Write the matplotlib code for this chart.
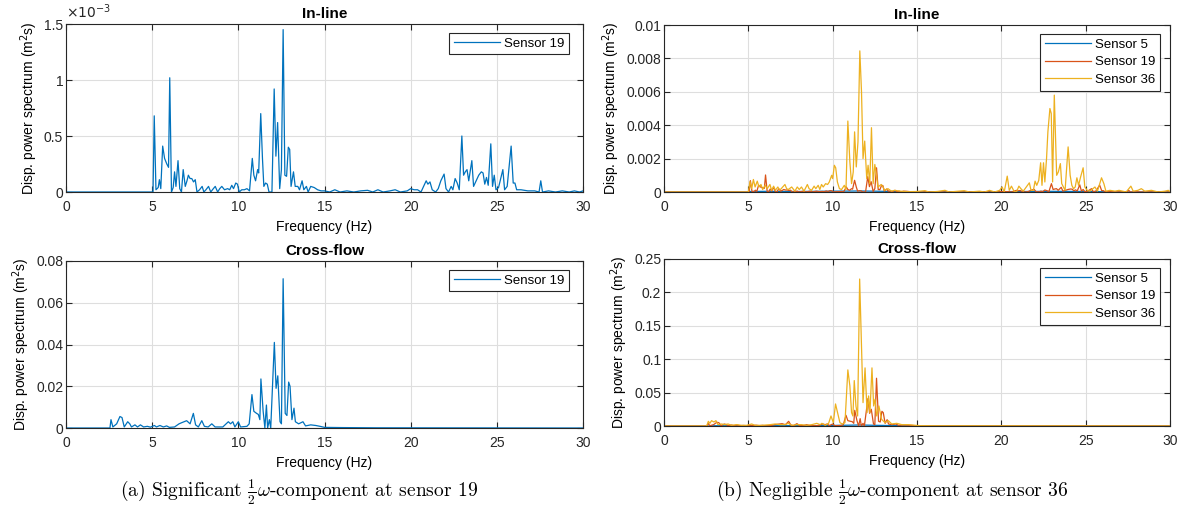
import numpy as np
import matplotlib
matplotlib.use("Agg")
import matplotlib.pyplot as plt
from matplotlib.ticker import FuncFormatter

plt.rcParams['font.family'] = ['Liberation Sans', 'DejaVu Sans']

# colours (MATLAB defaults)
C_BLUE = '#0072BD'
C_ORANGE = '#D95319'
C_YELLOW = '#EDB120'

# ---- data: (frequency Hz, value) ----
# in-line, units of 1e-3 m^2 s
inline_s19 = [
    (0, 0), (5.05, 0), (5.12, 0.68), (5.22, 0.02), (5.35, 0.04), (5.42, 0.11), (5.5, 0.03),
    (5.61, 0.41), (5.72, 0.3), (5.85, 0.25), (5.95, 0.22), (6.02, 1.02), (6.12, 0.0),
    (6.22, 0.04), (6.3, 0.18), (6.38, 0.05), (6.5, 0.28), (6.6, 0.03), (6.7, 0.0), (6.8, 0.2),
    (6.92, 0.05), (7.02, 0.1), (7.1, 0.15), (7.2, 0.12), (7.3, 0.12), (7.4, 0.09), (7.5, 0.11),
    (7.6, 0.0), (7.75, 0.02), (7.9, 0.05), (8.0, 0.0), (8.12, 0.02), (8.27, 0.05), (8.4, 0.0),
    (8.55, 0.03), (8.66, 0.05), (8.8, 0.0), (8.92, 0.03), (9.04, 0.05), (9.2, 0.02),
    (9.38, 0.03), (9.5, 0.02), (9.62, 0.06), (9.72, 0.03), (9.85, 0.08), (9.95, 0.07),
    (10.05, 0.0), (10.2, 0.02), (10.35, 0.02), (10.5, 0.03), (10.65, 0.01), (10.81, 0.3),
    (10.9, 0.15), (11.0, 0.1), (11.12, 0.2), (11.18, 0.17), (11.3, 0.7), (11.4, 0.3),
    (11.48, 0.05), (11.58, 0.08), (11.68, 0.07), (11.78, 0.0), (11.95, 0.0), (12.08, 0.92),
    (12.18, 0.32), (12.28, 0.62), (12.4, 0.03), (12.5, 0.2), (12.6, 1.45), (12.7, 0.15),
    (12.8, 0.14), (12.9, 0.4), (12.98, 0.38), (13.06, 0.05), (13.2, 0.18), (13.3, 0.05),
    (13.45, 0.05), (13.55, 0.02), (13.7, 0.1), (13.8, 0.02), (13.95, 0.05), (14.05, 0.0),
    (14.2, 0.05), (14.4, 0.04), (14.6, 0.02), (14.8, 0.01), (15.0, 0.01), (15.3, 0.0),
    (15.6, 0.02), (15.9, 0.0), (16.3, 0.01), (16.7, 0.0), (17.1, 0.01), (17.5, 0.015),
    (17.8, 0.0), (18.1, 0.02), (18.4, 0.0), (18.8, 0.01), (19.1, 0.02), (19.4, 0.0),
    (19.8, 0.01), (20.0, 0.03), (20.2, 0.02), (20.4, 0.02), (20.6, 0.0), (20.9, 0.1),
    (21.0, 0.07), (21.12, 0.09), (21.25, 0.02), (21.45, 0.0), (21.6, 0.03), (21.75, 0.1),
    (21.94, 0.16), (22.05, 0.03), (22.2, 0.0), (22.35, 0.05), (22.45, 0.02), (22.58, 0.12),
    (22.7, 0.08), (22.82, 0.02), (22.97, 0.5), (23.07, 0.15), (23.17, 0.18), (23.27, 0.2),
    (23.37, 0.1), (23.55, 0.28), (23.65, 0.05), (23.8, 0.1), (23.95, 0.15), (24.1, 0.18),
    (24.2, 0.17), (24.3, 0.07), (24.4, 0.13), (24.5, 0.06), (24.65, 0.43), (24.75, 0.05),
    (24.85, 0.15), (24.95, 0.02), (25.1, 0.04), (25.35, 0.2), (25.45, 0.02), (25.6, 0.05),
    (25.83, 0.41), (25.95, 0.08), (26.05, 0.08), (26.15, 0.02), (26.4, 0.02), (26.8, 0.01),
    (27.2, 0.01), (27.45, 0.0), (27.55, 0.1), (27.65, 0.0), (28.0, 0.01), (28.4, 0.0),
    (28.8, 0.01), (29.2, 0.0), (29.5, 0.01), (29.8, 0.0), (30, 0.01),
]

inline_s36 = [
    (0, 0), (5.0, 0), (5.1, 0.62), (5.2, 0.2), (5.3, 0.75), (5.4, 0.3), (5.53, 0.65),
    (5.63, 0.3), (5.75, 0.45), (5.85, 0.15), (6.0, 0.4), (6.12, 0.2), (6.28, 0.45),
    (6.38, 0.1), (6.5, 0.35), (6.6, 0.1), (6.75, 0.3), (6.85, 0.1), (6.95, 0.2), (7.17, 0.45),
    (7.27, 0.2), (7.37, 0.15), (7.57, 0.3), (7.76, 0.05), (7.9, 0.3), (8.02, 0.15),
    (8.15, 0.3), (8.3, 0.05), (8.5, 0.45), (8.6, 0.2), (8.75, 0.1), (8.9, 0.35), (9.0, 0.2),
    (9.14, 0.4), (9.24, 0.15), (9.34, 0.45), (9.44, 0.3), (9.58, 0.5), (9.7, 0.45),
    (9.8, 0.6), (9.94, 1.0), (10.0, 0.8), (10.1, 1.6), (10.18, 1.45), (10.28, 0.6),
    (10.4, 0.2), (10.53, 0.15), (10.69, 0.4), (10.79, 0.15), (10.9, 4.25), (11.02, 1.8),
    (11.12, 0.5), (11.22, 1.2), (11.3, 3.6), (11.4, 1.5), (11.5, 3.0), (11.61, 8.45),
    (11.71, 6.0), (11.8, 2.0), (11.9, 3.05), (12.02, 0.8), (12.1, 1.6), (12.2, 0.5),
    (12.3, 3.85), (12.4, 0.5), (12.5, 1.65), (12.6, 1.0), (12.68, 0.3), (12.88, 0.45),
    (12.98, 0.3), (13.08, 0.1), (13.28, 0.2), (13.48, 0.05), (13.68, 0.1), (13.98, 0.05),
    (14.5, 0.02), (15.0, 0.03), (15.47, 0.08), (15.7, 0.0), (16.2, 0.03), (16.66, 0.1),
    (16.9, 0.0), (17.5, 0.05), (17.8, 0.08), (18.1, 0.0), (18.7, 0.05), (19.0, 0.0),
    (19.3, 0.1), (19.6, 0.0), (19.9, 0.1), (20.05, 0.3), (20.17, 0.0), (20.35, 0.95),
    (20.47, 0.1), (20.6, 0.35), (20.75, 0.05), (20.9, 0.0), (21.04, 0.35), (21.16, 0.2),
    (21.3, 0.05), (21.66, 0.55), (21.76, 0.1), (21.9, 0.1), (22.0, 0.65), (22.1, 0.4),
    (22.22, 0.7), (22.33, 1.75), (22.41, 0.4), (22.5, 1.75), (22.58, 0.6), (22.68, 2.0),
    (22.76, 3.6), (22.88, 5.0), (22.96, 4.7), (23.04, 0.6), (23.14, 5.8), (23.28, 1.0),
    (23.38, 1.2), (23.5, 1.7), (23.58, 0.5), (23.68, 0.3), (23.78, 0.1), (23.96, 2.7),
    (24.08, 1.0), (24.18, 0.4), (24.28, 0.2), (24.38, 0.3), (24.48, 0.85), (24.58, 0.4),
    (24.7, 0.9), (24.85, 1.45), (24.95, 0.3), (25.09, 0.1), (25.25, 0.05), (25.55, 0.3),
    (25.7, 0.05), (25.94, 0.85), (26.08, 0.5), (26.2, 0.05), (26.44, 0.1), (26.74, 0.05),
    (26.98, 0.1), (27.4, 0.0), (27.68, 0.35), (27.82, 0.05), (28.1, 0.1), (28.3, 0.2),
    (28.5, 0.05), (28.9, 0.1), (29.3, 0.0), (29.7, 0.05), (29.9, 0.1), (30, 0.02),
]

inline_s5 = [
    (0, 0), (5.0, 0), (5.1, 0.03), (6, 0.04), (8, 0.03), (10, 0.05), (11.6, 0.06),
    (12.5, 0.05), (14, 0.02), (15, 0.01), (20, 0.02), (23, 0.04), (25, 0.03), (26, 0.02),
    (27, 0.0), (30, 0),
]

# cross-flow, m^2 s
cross_s19 = [
    (0, 0), (2.55, 0), (2.61, 0.004), (2.72, 0.0005), (2.94, 0.002), (3.13, 0.0055),
    (3.25, 0.005), (3.38, 0.0005), (3.58, 0.003), (3.7, 0.002), (3.8, 0.0005), (4.0, 0.0015),
    (4.15, 0.0005), (4.32, 0.0015), (4.5, 0.0005), (4.72, 0.0008), (4.9, 0.0004),
    (5.13, 0.0012), (5.25, 0.0005), (5.45, 0.0012), (5.65, 0.0005), (5.84, 0.001),
    (6.0, 0.0003), (6.3, 0.0005), (6.56, 0.002), (6.7, 0.0025), (6.85, 0.003), (7.0, 0.0035),
    (7.2, 0.002), (7.39, 0.007), (7.52, 0.0015), (7.68, 0.0005), (7.88, 0.0035),
    (8.03, 0.0008), (8.25, 0.0005), (8.46, 0.002), (8.65, 0.0005), (9.1, 0.0005),
    (9.42, 0.003), (9.55, 0.002), (9.68, 0.003), (9.8, 0.0005), (10.0, 0.003),
    (10.13, 0.0005), (10.5, 0.0008), (10.63, 0.002), (10.79, 0.016), (10.9, 0.008),
    (11.06, 0.007), (11.16, 0.0065), (11.25, 0.004), (11.31, 0.0235), (11.44, 0.008),
    (11.54, 0.0), (11.63, 0.011), (11.7, 0.0), (11.8, 0.004), (11.88, 0.0), (12.09, 0.041),
    (12.19, 0.019), (12.29, 0.025), (12.42, 0.003), (12.5, 0.002), (12.6, 0.0715),
    (12.72, 0.007), (12.82, 0.006), (12.92, 0.022), (13.0, 0.02), (13.11, 0.004),
    (13.23, 0.0095), (13.31, 0.003), (13.5, 0.002), (13.75, 0.003), (13.9, 0.001),
    (14.2, 0.0015), (14.5, 0.0012), (14.74, 0.0008), (15.0, 0.0003), (16.0, 0.0002),
    (18, 0.0001), (30, 0),
]

cross_s36 = [
    (0, 0), (2.53, 0), (2.63, 0.007), (2.72, 0.004), (2.82, 0.008), (2.96, 0.006),
    (3.08, 0.008), (3.2, 0.002), (3.42, 0.003), (3.6, 0.002), (3.8, 0.003), (4.0, 0.001),
    (4.3, 0.002), (4.6, 0.001), (4.9, 0.001), (5.2, 0.003), (5.4, 0.001), (5.8, 0.001),
    (6.28, 0.002), (6.58, 0.003), (6.88, 0.002), (7.17, 0.002), (7.37, 0.004), (7.57, 0.001),
    (7.87, 0.002), (8.16, 0.002), (8.46, 0.001), (8.76, 0.002), (9.06, 0.004), (9.26, 0.002),
    (9.36, 0.004), (9.56, 0.001), (9.76, 0.004), (9.9, 0.015), (10.04, 0.005),
    (10.17, 0.033), (10.29, 0.02), (10.43, 0.005), (10.57, 0.003), (10.73, 0.005),
    (10.9, 0.084), (11.02, 0.06), (11.12, 0.02), (11.2, 0.015), (11.28, 0.068),
    (11.38, 0.03), (11.48, 0.015), (11.6, 0.22), (11.72, 0.11), (11.8, 0.035),
    (11.92, 0.087), (12.04, 0.02), (12.13, 0.045), (12.21, 0.02), (12.33, 0.087),
    (12.43, 0.03), (12.51, 0.04), (12.61, 0.015), (12.74, 0.03), (12.9, 0.01), (13.1, 0.005),
    (13.3, 0.008), (13.5, 0.003), (13.8, 0.004), (14.1, 0.002), (14.5, 0.002), (14.9, 0.001),
    (15.2, 0.0005), (16, 0.0003), (30, 0),
]

cross_s5 = [
    (0, 0), (2.6, 0), (3, 0.0004), (5, 0.0005), (8, 0.0005), (10, 0.0008), (11.6, 0.0015),
    (12.6, 0.001), (14, 0.0005), (15, 0.0002), (30, 0),
]

freq_ticks = [0, 5, 10, 15, 20, 25, 30]
captions = [r'(a) Significant $\frac{1}{2}\omega$-component at sensor 19',
            r'(b) Negligible $\frac{1}{2}\omega$-component at sensor 36']


def xy(pairs, scale=1.0):
    a = np.array(pairs, dtype=float)
    return a[:, 0], a[:, 1] * scale


def style_axes(ax, title, ylim, yticks):
    ax.set_xlim(0, 30)
    ax.set_ylim(*ylim)
    ax.set_xticks(freq_ticks)
    ax.set_yticks(yticks)
    ax.yaxis.set_major_formatter(FuncFormatter(lambda v, p: '%g' % v))
    ax.grid(True, color='#dedede', linewidth=0.8)
    ax.set_axisbelow(True)
    ax.tick_params(direction='in', top=True, right=True, length=4, width=0.8,
                   labelsize=10, colors='#262626')
    ax.tick_params(axis='x', pad=5.5)
    ax.tick_params(axis='y', pad=2)
    for s in ax.spines.values():
        s.set_color('#262626')
        s.set_linewidth(0.8)
    ax.set_title(title, fontsize=11, fontweight='bold', pad=4)
    ax.set_xlabel('Frequency (Hz)', fontsize=10, labelpad=4.5)
    ax.set_ylabel(r'Disp. power spectrum (m$^2$s)', fontsize=10, labelpad=3)


def add_legend(ax, gap_x, gap_y):
    bb = ax.get_window_extent()
    anchor = (1 - gap_x / bb.width, 1 - gap_y / bb.height)
    leg = ax.legend(loc='upper right', bbox_to_anchor=anchor, borderaxespad=0,
                    fontsize=9.5, frameon=True, fancybox=False, framealpha=1,
                    handlelength=3.5, labelspacing=0.4, borderpad=0.35,
                    handletextpad=0.3)
    leg.get_frame().set_edgecolor('#262626')
    leg.get_frame().set_linewidth(0.8)


fig = plt.figure(figsize=(11.84, 5.17), dpi=100)
W, H = 1184, 517


def px_axes(left, top, right, bottom):
    return fig.add_axes([left / W, 1 - bottom / H, (right - left) / W, (bottom - top) / H])


lw = 0.9

# (a) in-line
ax = px_axes(66, 24, 583, 192)
f, v = xy(inline_s19)
ax.plot(f, v, color=C_BLUE, lw=lw, label='Sensor 19')
style_axes(ax, 'In-line', (0, 1.5), [0, 0.5, 1, 1.5])
ax.text(0.0, 1.015, r'$\times10^{-3}$', transform=ax.transAxes, fontsize=10,
        ha='left', va='bottom', color='#262626')
add_legend(ax, 14, 9)

# (a) cross-flow
ax = px_axes(66, 261, 583, 428)
f, v = xy(cross_s19)
ax.plot(f, v, color=C_BLUE, lw=lw, label='Sensor 19')
style_axes(ax, 'Cross-flow', (0, 0.08), [0, 0.02, 0.04, 0.06, 0.08])
add_legend(ax, 14, 9)

# (b) in-line
ax = px_axes(664, 25, 1170, 192)
for pairs, c, lab in [(inline_s5, C_BLUE, 'Sensor 5'),
                      (inline_s19, C_ORANGE, 'Sensor 19'),
                      (inline_s36, C_YELLOW, 'Sensor 36')]:
    f, v = xy(pairs, 1e-3)
    ax.plot(f, v, color=c, lw=lw, label=lab)
style_axes(ax, 'In-line', (0, 0.01), [0, 0.002, 0.004, 0.006, 0.008, 0.01])
add_legend(ax, 10, 9)

# (b) cross-flow
ax = px_axes(664, 259, 1170, 426)
for pairs, c, lab in [(cross_s5, C_BLUE, 'Sensor 5'),
                      (cross_s19, C_ORANGE, 'Sensor 19'),
                      (cross_s36, C_YELLOW, 'Sensor 36')]:
    f, v = xy(pairs)
    ax.plot(f, v, color=c, lw=lw, label=lab)
style_axes(ax, 'Cross-flow', (0, 0.25), [0, 0.05, 0.1, 0.15, 0.2, 0.25])
add_legend(ax, 10, 9)

# sub-captions
fig.text(299 / W, 1 - 492 / H, captions[0], ha='center', va='center', fontsize=14,
         family='cmr10', math_fontfamily='cm')
fig.text(892 / W, 1 - 492 / H, captions[1], ha='center', va='center', fontsize=14,
         family='cmr10', math_fontfamily='cm')

fig.savefig('out.png', dpi=100)
